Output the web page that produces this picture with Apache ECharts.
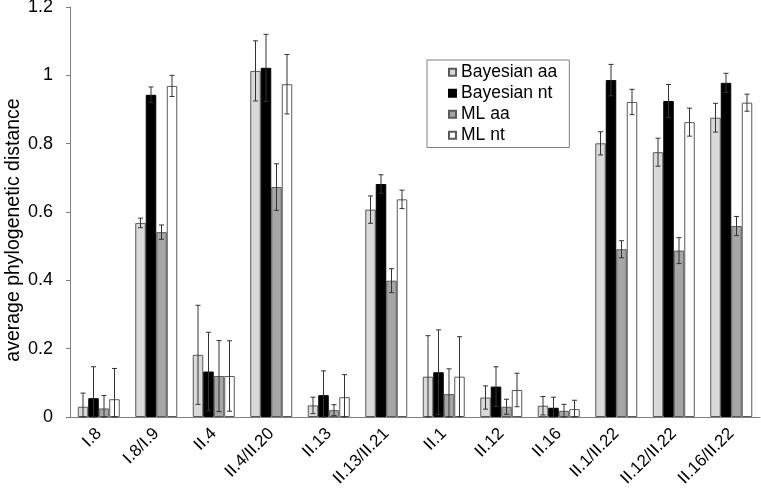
<!DOCTYPE html>
<html lang="en">
<head>
    <meta charset="UTF-8">
    <title>average phylogenetic distance</title>
    <script src="https://cdn.jsdelivr.net/npm/echarts@6/dist/echarts.min.js"></script>
</head>
<body style="margin:0;">
<div id="main" style="width: 761px;height:490px;"></div>
<script type="text/javascript">
    // 类别与数据
    var categories = ["I.8", "I.8/I.9", "II.4", "II.4/II.20", "II.13", "II.13/II.21",
        "II.1", "II.12", "II.16", "II.1/II.22", "II.12/II.22", "II.16/II.22"];
    var seriesNames = ["Bayesian aa", "Bayesian nt", "ML aa", "ML nt"];

    var bayesAa = [0.03, 0.568, 0.182, 1.013, 0.034, 0.607, 0.118, 0.057, 0.033, 0.801, 0.775, 0.876];
    var bayesNt = [0.055, 0.943, 0.133, 1.022, 0.064, 0.682, 0.131, 0.089, 0.027, 0.986, 0.925, 0.978];
    var mlAa = [0.025, 0.541, 0.12, 0.673, 0.02, 0.399, 0.067, 0.03, 0.018, 0.491, 0.487, 0.559];
    var mlNt = [0.052, 0.969, 0.12, 0.974, 0.058, 0.637, 0.118, 0.079, 0.023, 0.922, 0.863, 0.92];

    // 误差 (±)
    var bayesAaErr = [0.04, 0.014, 0.145, 0.088, 0.024, 0.04, 0.12, 0.034, 0.027, 0.034, 0.041, 0.042];
    var bayesNtErr = [0.092, 0.023, 0.115, 0.098, 0.071, 0.027, 0.124, 0.058, 0.031, 0.046, 0.048, 0.028];
    var mlAaErr = [0.038, 0.021, 0.104, 0.068, 0.016, 0.035, 0.074, 0.022, 0.019, 0.025, 0.038, 0.028];
    var mlNtErr = [0.09, 0.031, 0.103, 0.087, 0.066, 0.027, 0.117, 0.049, 0.026, 0.037, 0.041, 0.025];

    var yTicks = ["0", "0.2", "0.4", "0.6", "0.8", "1", "1.2"];
    var yName = "average phylogenetic distance";

    var values = [bayesAa, bayesNt, mlAa, mlNt];
    var errors = [bayesAaErr, bayesNtErr, mlAaErr, mlNtErr];
    var colors = ["#d9d9d9", "#000000", "#a6a6a6", "#ffffff"];
    var borders = ["#5a5a5a", "#000000", "#5a5a5a", "#5a5a5a"];
    var barW = 10.5;

    var myChart = echarts.init(document.getElementById("main"));

    // 误差线
    function errorRenderer(idx) {
        return function (params, api) {
            var cat = api.value(0), v = api.value(1), e = api.value(2);
            var hi = api.coord([cat, v + e]);
            var lo = api.coord([cat, Math.max(0, v - e)]);
            var x = hi[0] + (idx - 1.5) * barW;
            var st = {stroke: "#333", lineWidth: 1};
            return {
                type: "group",
                children: [
                    {type: "line", shape: {x1: x, y1: hi[1], x2: x, y2: lo[1]}, style: st},
                    {type: "line", shape: {x1: x - 2.5, y1: hi[1], x2: x + 2.5, y2: hi[1]}, style: st},
                    {type: "line", shape: {x1: x - 2.5, y1: lo[1], x2: x + 2.5, y2: lo[1]}, style: st}
                ]
            };
        };
    }

    var series = [];
    for (var i = 0; i < 4; i++) {
        series.push({
            name: seriesNames[i],
            type: "bar",
            barWidth: barW,
            barGap: "0%",
            data: values[i],
            itemStyle: {color: colors[i], borderColor: borders[i], borderWidth: 1}
        });
    }
    for (var j = 0; j < 4; j++) {
        series.push({
            type: "custom",
            renderItem: errorRenderer(j),
            z: 10,
            silent: true,
            encode: {x: 0, y: 1},
            data: values[j].map(function (v, k) { return [k, v, errors[j][k]]; })
        });
    }

    var option = {
        animation: false,
        textStyle: {fontFamily: "Liberation Sans, Arial, sans-serif"},
        grid: {left: 70, right: 1, top: 7, bottom: 73, outerBoundsMode: "none"},
        graphic: [{
            type: "text",
            x: 14,
            y: 230,
            rotation: Math.PI / 2,
            style: {
                text: yName,
                font: "19.5px 'Liberation Sans', Arial, sans-serif",
                fill: "#000",
                align: "center",
                verticalAlign: "middle"
            }
        }],
        legend: {
            data: seriesNames,
            icon: "rect",
            orient: "vertical",
            left: 427,
            top: 60,
            itemWidth: 7,
            itemHeight: 7,
            itemGap: 3,
            padding: [3.25, 12, 3.25, 21],
            borderColor: "#808080",
            borderWidth: 1,
            textStyle: {fontSize: 17.5, color: "#000", lineHeight: 17.5}
        },
        xAxis: {
            type: "category",
            data: categories,
            axisLine: {lineStyle: {color: "#808080"}},
            axisTick: {length: 5, lineStyle: {color: "#808080"}},
            axisLabel: {rotate: 45, fontSize: 17, color: "#000", margin: 14, interval: 0}
        },
        yAxis: {
            type: "value",
            min: 0,
            max: 1.2,
            interval: 0.2,
            splitLine: {show: false},
            axisLine: {show: true, lineStyle: {color: "#808080"}},
            axisTick: {show: true, length: 4, lineStyle: {color: "#808080"}},
            axisLabel: {
                fontSize: 18, color: "#000", margin: 17,
                formatter: function (v) { return yTicks[Math.round(v / 0.2)]; }
            }
        },
        series: series
    };

    myChart.setOption(option);
</script>
</body>
</html>
